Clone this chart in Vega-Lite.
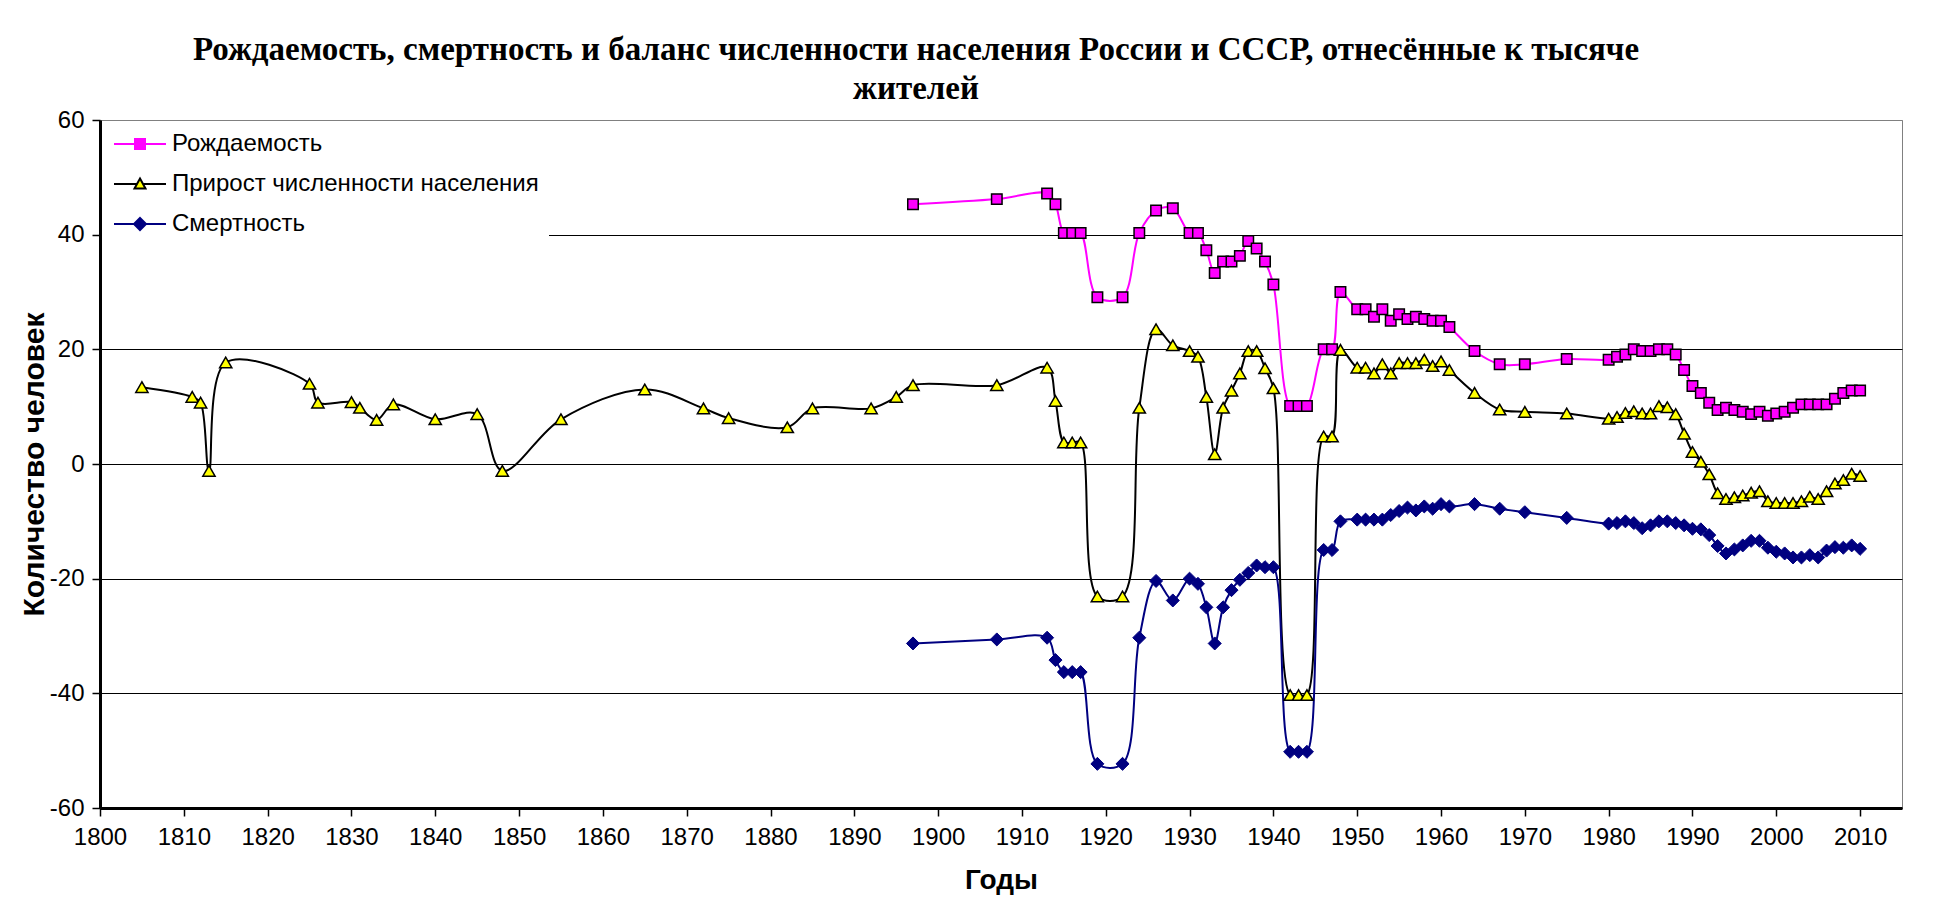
{
"$schema": "https://vega.github.io/schema/vega-lite/v6.json",
"width": 1802, "height": 688,
"autosize": {"type": "none"},
"padding": {"left": 100, "top": 120, "right": 32, "bottom": 96},
"background": "white",
"config": {"view": {"stroke": "#808080", "strokeWidth": 1}, "font": "Liberation Sans"},
"title": {"text": ["Рождаемость, смертность и баланс численности населения России и СССР, отнесённые к тысяче", "жителей"], "font": "Liberation Serif", "fontSize": 33, "fontWeight": "bold", "lineHeight": 39, "anchor": "middle", "dx": -85, "offset": 2, "color": "black"},
"data": {"values": [
{"year":1897,"series":"Рождаемость","value":45.3},{"year":1907,"series":"Рождаемость","value":46.2},{"year":1913,"series":"Рождаемость","value":47.2},{"year":1914,"series":"Рождаемость","value":45.3},{"year":1915,"series":"Рождаемость","value":40.3},{"year":1916,"series":"Рождаемость","value":40.3},{"year":1917,"series":"Рождаемость","value":40.3},{"year":1919,"series":"Рождаемость","value":29.1},{"year":1922,"series":"Рождаемость","value":29.1},{"year":1924,"series":"Рождаемость","value":40.3},{"year":1926,"series":"Рождаемость","value":44.2},{"year":1928,"series":"Рождаемость","value":44.6},{"year":1930,"series":"Рождаемость","value":40.3},{"year":1931,"series":"Рождаемость","value":40.3},{"year":1932,"series":"Рождаемость","value":37.3},{"year":1933,"series":"Рождаемость","value":33.3},{"year":1934,"series":"Рождаемость","value":35.3},{"year":1935,"series":"Рождаемость","value":35.3},{"year":1936,"series":"Рождаемость","value":36.3},{"year":1937,"series":"Рождаемость","value":38.9},{"year":1938,"series":"Рождаемость","value":37.6},{"year":1939,"series":"Рождаемость","value":35.3},{"year":1940,"series":"Рождаемость","value":31.3},{"year":1942,"series":"Рождаемость","value":10.1},{"year":1943,"series":"Рождаемость","value":10.1},{"year":1944,"series":"Рождаемость","value":10.1},{"year":1946,"series":"Рождаемость","value":20.0},{"year":1947,"series":"Рождаемость","value":20.0},{"year":1948,"series":"Рождаемость","value":30.0},{"year":1950,"series":"Рождаемость","value":27.0},{"year":1951,"series":"Рождаемость","value":27.0},{"year":1952,"series":"Рождаемость","value":25.7},{"year":1953,"series":"Рождаемость","value":27.0},{"year":1954,"series":"Рождаемость","value":25.0},{"year":1955,"series":"Рождаемость","value":26.1},{"year":1956,"series":"Рождаемость","value":25.3},{"year":1957,"series":"Рождаемость","value":25.7},{"year":1958,"series":"Рождаемость","value":25.3},{"year":1959,"series":"Рождаемость","value":25.0},{"year":1960,"series":"Рождаемость","value":25.0},{"year":1961,"series":"Рождаемость","value":23.9},{"year":1964,"series":"Рождаемость","value":19.7},{"year":1967,"series":"Рождаемость","value":17.4},{"year":1970,"series":"Рождаемость","value":17.4},{"year":1975,"series":"Рождаемость","value":18.3},{"year":1980,"series":"Рождаемость","value":18.2},{"year":1981,"series":"Рождаемость","value":18.7},{"year":1982,"series":"Рождаемость","value":19.1},{"year":1983,"series":"Рождаемость","value":20.0},{"year":1984,"series":"Рождаемость","value":19.7},{"year":1985,"series":"Рождаемость","value":19.7},{"year":1986,"series":"Рождаемость","value":20.0},{"year":1987,"series":"Рождаемость","value":20.0},{"year":1988,"series":"Рождаемость","value":19.1},{"year":1989,"series":"Рождаемость","value":16.4},{"year":1990,"series":"Рождаемость","value":13.6},{"year":1991,"series":"Рождаемость","value":12.4},{"year":1992,"series":"Рождаемость","value":10.7},{"year":1993,"series":"Рождаемость","value":9.4},{"year":1994,"series":"Рождаемость","value":9.8},{"year":1995,"series":"Рождаемость","value":9.4},{"year":1996,"series":"Рождаемость","value":9.1},{"year":1997,"series":"Рождаемость","value":8.7},{"year":1998,"series":"Рождаемость","value":9.1},{"year":1999,"series":"Рождаемость","value":8.4},{"year":2000,"series":"Рождаемость","value":8.8},{"year":2001,"series":"Рождаемость","value":9.1},{"year":2002,"series":"Рождаемость","value":9.8},{"year":2003,"series":"Рождаемость","value":10.4},{"year":2004,"series":"Рождаемость","value":10.4},{"year":2005,"series":"Рождаемость","value":10.4},{"year":2006,"series":"Рождаемость","value":10.4},{"year":2007,"series":"Рождаемость","value":11.4},{"year":2008,"series":"Рождаемость","value":12.4},{"year":2009,"series":"Рождаемость","value":12.8},{"year":2010,"series":"Рождаемость","value":12.8},
{"year":1805,"series":"Прирост численности населения","value":13.4},{"year":1811,"series":"Прирост численности населения","value":11.7},{"year":1812,"series":"Прирост численности населения","value":10.7},{"year":1813,"series":"Прирост численности населения","value":-1.2},{"year":1815,"series":"Прирост численности населения","value":17.7},{"year":1825,"series":"Прирост численности населения","value":14.0},{"year":1826,"series":"Прирост численности населения","value":10.7},{"year":1830,"series":"Прирост численности населения","value":10.8},{"year":1831,"series":"Прирост численности населения","value":9.8},{"year":1833,"series":"Прирост численности населения","value":7.7},{"year":1835,"series":"Прирост численности населения","value":10.4},{"year":1840,"series":"Прирост численности населения","value":7.8},{"year":1845,"series":"Прирост численности населения","value":8.7},{"year":1848,"series":"Прирост численности населения","value":-1.2},{"year":1855,"series":"Прирост численности населения","value":7.8},{"year":1865,"series":"Прирост численности населения","value":13.0},{"year":1872,"series":"Прирост численности населения","value":9.7},{"year":1875,"series":"Прирост численности населения","value":8.0},{"year":1882,"series":"Прирост численности населения","value":6.4},{"year":1885,"series":"Прирост численности населения","value":9.7},{"year":1892,"series":"Прирост численности населения","value":9.7},{"year":1895,"series":"Прирост численности населения","value":11.7},{"year":1897,"series":"Прирост численности населения","value":13.75},{"year":1907,"series":"Прирост численности населения","value":13.75},{"year":1913,"series":"Прирост численности населения","value":16.8},{"year":1914,"series":"Прирост численности населения","value":11.0},{"year":1915,"series":"Прирост численности населения","value":3.75},{"year":1916,"series":"Прирост численности населения","value":3.75},{"year":1917,"series":"Прирост численности населения","value":3.75},{"year":1919,"series":"Прирост численности населения","value":-23.1},{"year":1922,"series":"Прирост численности населения","value":-23.1},{"year":1924,"series":"Прирост численности населения","value":9.8},{"year":1926,"series":"Прирост численности населения","value":23.5},{"year":1928,"series":"Прирост численности населения","value":20.7},{"year":1930,"series":"Прирост численности населения","value":19.7},{"year":1931,"series":"Прирост численности населения","value":18.7},{"year":1932,"series":"Прирост численности населения","value":11.7},{"year":1933,"series":"Прирост численности населения","value":1.7},{"year":1934,"series":"Прирост численности населения","value":9.8},{"year":1935,"series":"Прирост численности населения","value":12.8},{"year":1936,"series":"Прирост численности населения","value":15.8},{"year":1937,"series":"Прирост численности населения","value":19.7},{"year":1938,"series":"Прирост численности населения","value":19.7},{"year":1939,"series":"Прирост численности населения","value":16.7},{"year":1940,"series":"Прирост численности населения","value":13.2},{"year":1942,"series":"Прирост численности населения","value":-40.3},{"year":1943,"series":"Прирост численности населения","value":-40.3},{"year":1944,"series":"Прирост численности населения","value":-40.3},{"year":1946,"series":"Прирост численности населения","value":4.8},{"year":1947,"series":"Прирост численности населения","value":4.8},{"year":1948,"series":"Прирост численности населения","value":19.9},{"year":1950,"series":"Прирост численности населения","value":16.8},{"year":1951,"series":"Прирост численности населения","value":16.8},{"year":1952,"series":"Прирост численности населения","value":15.8},{"year":1953,"series":"Прирост численности населения","value":17.4},{"year":1954,"series":"Прирост численности населения","value":15.8},{"year":1955,"series":"Прирост численности населения","value":17.6},{"year":1956,"series":"Прирост численности населения","value":17.6},{"year":1957,"series":"Прирост численности населения","value":17.6},{"year":1958,"series":"Прирост численности населения","value":18.2},{"year":1959,"series":"Прирост численности населения","value":17.1},{"year":1960,"series":"Прирост численности населения","value":17.9},{"year":1961,"series":"Прирост численности населения","value":16.4},{"year":1964,"series":"Прирост численности населения","value":12.4},{"year":1967,"series":"Прирост численности населения","value":9.5},{"year":1970,"series":"Прирост численности населения","value":9.1},{"year":1975,"series":"Прирост численности населения","value":8.8},{"year":1980,"series":"Прирост численности населения","value":7.9},{"year":1981,"series":"Прирост численности населения","value":8.2},{"year":1982,"series":"Прирост численности населения","value":8.9},{"year":1983,"series":"Прирост численности населения","value":9.2},{"year":1984,"series":"Прирост численности населения","value":8.8},{"year":1985,"series":"Прирост численности населения","value":8.8},{"year":1986,"series":"Прирост численности населения","value":10.1},{"year":1987,"series":"Прирост численности населения","value":9.9},{"year":1988,"series":"Прирост численности населения","value":8.7},{"year":1989,"series":"Прирост численности населения","value":5.3},{"year":1990,"series":"Прирост численности населения","value":2.1},{"year":1991,"series":"Прирост численности населения","value":0.4},{"year":1992,"series":"Прирост численности населения","value":-1.8},{"year":1993,"series":"Прирост численности населения","value":-5.1},{"year":1994,"series":"Прирост численности населения","value":-6.1},{"year":1995,"series":"Прирост численности населения","value":-5.8},{"year":1996,"series":"Прирост численности населения","value":-5.5},{"year":1997,"series":"Прирост численности населения","value":-5.0},{"year":1998,"series":"Прирост численности населения","value":-4.75},{"year":1999,"series":"Прирост численности населения","value":-6.5},{"year":2000,"series":"Прирост численности населения","value":-6.8},{"year":2001,"series":"Прирост численности населения","value":-6.8},{"year":2002,"series":"Прирост численности населения","value":-6.8},{"year":2003,"series":"Прирост численности населения","value":-6.5},{"year":2004,"series":"Прирост численности населения","value":-5.7},{"year":2005,"series":"Прирост численности населения","value":-6.1},{"year":2006,"series":"Прирост численности населения","value":-4.75},{"year":2007,"series":"Прирост численности населения","value":-3.4},{"year":2008,"series":"Прирост численности населения","value":-2.8},{"year":2009,"series":"Прирост численности населения","value":-1.7},{"year":2010,"series":"Прирост численности населения","value":-2.1},
{"year":1897,"series":"Смертность","value":-31.3},{"year":1907,"series":"Смертность","value":-30.6},{"year":1913,"series":"Смертность","value":-30.3},{"year":1914,"series":"Смертность","value":-34.2},{"year":1915,"series":"Смертность","value":-36.3},{"year":1916,"series":"Смертность","value":-36.3},{"year":1917,"series":"Смертность","value":-36.3},{"year":1919,"series":"Смертность","value":-52.3},{"year":1922,"series":"Смертность","value":-52.3},{"year":1924,"series":"Смертность","value":-30.3},{"year":1926,"series":"Смертность","value":-20.4},{"year":1928,"series":"Смертность","value":-23.8},{"year":1930,"series":"Смертность","value":-20.0},{"year":1931,"series":"Смертность","value":-20.9},{"year":1932,"series":"Смертность","value":-25.0},{"year":1933,"series":"Смертность","value":-31.3},{"year":1934,"series":"Смертность","value":-25.0},{"year":1935,"series":"Смертность","value":-22.0},{"year":1936,"series":"Смертность","value":-20.2},{"year":1937,"series":"Смертность","value":-19.0},{"year":1938,"series":"Смертность","value":-17.7},{"year":1939,"series":"Смертность","value":-18.0},{"year":1940,"series":"Смертность","value":-18.0},{"year":1942,"series":"Смертность","value":-50.2},{"year":1943,"series":"Смертность","value":-50.2},{"year":1944,"series":"Смертность","value":-50.2},{"year":1946,"series":"Смертность","value":-15.0},{"year":1947,"series":"Смертность","value":-15.0},{"year":1948,"series":"Смертность","value":-10.0},{"year":1950,"series":"Смертность","value":-9.7},{"year":1951,"series":"Смертность","value":-9.7},{"year":1952,"series":"Смертность","value":-9.7},{"year":1953,"series":"Смертность","value":-9.7},{"year":1954,"series":"Смертность","value":-8.9},{"year":1955,"series":"Смертность","value":-8.2},{"year":1956,"series":"Смертность","value":-7.6},{"year":1957,"series":"Смертность","value":-8.1},{"year":1958,"series":"Смертность","value":-7.4},{"year":1959,"series":"Смертность","value":-7.8},{"year":1960,"series":"Смертность","value":-7.0},{"year":1961,"series":"Смертность","value":-7.4},{"year":1964,"series":"Смертность","value":-7.0},{"year":1967,"series":"Смертность","value":-7.8},{"year":1970,"series":"Смертность","value":-8.4},{"year":1975,"series":"Смертность","value":-9.4},{"year":1980,"series":"Смертность","value":-10.4},{"year":1981,"series":"Смертность","value":-10.3},{"year":1982,"series":"Смертность","value":-10.0},{"year":1983,"series":"Смертность","value":-10.3},{"year":1984,"series":"Смертность","value":-11.2},{"year":1985,"series":"Смертность","value":-10.7},{"year":1986,"series":"Смертность","value":-10.0},{"year":1987,"series":"Смертность","value":-10.0},{"year":1988,"series":"Смертность","value":-10.3},{"year":1989,"series":"Смертность","value":-10.7},{"year":1990,"series":"Смертность","value":-11.3},{"year":1991,"series":"Смертность","value":-11.4},{"year":1992,"series":"Смертность","value":-12.4},{"year":1993,"series":"Смертность","value":-14.3},{"year":1994,"series":"Смертность","value":-15.6},{"year":1995,"series":"Смертность","value":-14.9},{"year":1996,"series":"Смертность","value":-14.2},{"year":1997,"series":"Смертность","value":-13.4},{"year":1998,"series":"Смертность","value":-13.4},{"year":1999,"series":"Смертность","value":-14.6},{"year":2000,"series":"Смертность","value":-15.3},{"year":2001,"series":"Смертность","value":-15.6},{"year":2002,"series":"Смертность","value":-16.3},{"year":2003,"series":"Смертность","value":-16.3},{"year":2004,"series":"Смертность","value":-15.9},{"year":2005,"series":"Смертность","value":-16.3},{"year":2006,"series":"Смертность","value":-15.1},{"year":2007,"series":"Смертность","value":-14.5},{"year":2008,"series":"Смертность","value":-14.6},{"year":2009,"series":"Смертность","value":-14.2},{"year":2010,"series":"Смертность","value":-14.8}
]},
"encoding": {
 "x": {"field": "year", "type": "quantitative", "scale": {"domain": [1800, 2015], "nice": false, "zero": false},
  "axis": {"values": [1800,1810,1820,1830,1840,1850,1860,1870,1880,1890,1900,1910,1920,1930,1940,1950,1960,1970,1980,1990,2000,2010], "format": "d", "title": "Годы", "grid": false, "labelFont": "Liberation Sans", "labelFontSize": 24, "labelColor": "black", "labelPadding": 9, "labelFlush": false, "labelOverlap": false, "tickSize": 8, "tickColor": "black", "tickWidth": 1.5, "domainColor": "black", "domainWidth": 3, "titleFont": "Liberation Sans", "titleFontSize": 28, "titleFontWeight": "bold", "titleColor": "black", "titlePadding": 17}},
 "y": {"field": "value", "type": "quantitative", "scale": {"domain": [-60, 60], "nice": false},
  "axis": {"values": [-60,-40,-20,0,20,40,60], "labelExpr": "'' + datum.value", "title": "Количество человек", "grid": true, "gridColor": {"condition": {"test": "datum.value === 60", "value": "#808080"}, "value": "black"}, "gridWidth": 1, "labelFont": "Liberation Sans", "labelFontSize": 24, "labelColor": "black", "labelPadding": 8, "tickSize": 8, "tickColor": "black", "tickWidth": 1.5, "domainColor": "black", "domainWidth": 3, "titleFont": "Liberation Sans", "titleFontSize": 30, "titleFontWeight": "bold", "titleColor": "black", "titlePadding": 0}}
},
"layer": [
 {"mark": {"type": "line", "interpolate": "catmull-rom", "strokeWidth": 2},
  "encoding": {"stroke": {"field": "series", "type": "nominal",
   "scale": {"domain": ["Рождаемость", "Прирост численности населения", "Смертность"], "range": ["#FF00FF", "#000000", "#000080"]},
   "legend": {"orient": "none", "legendX": 2, "legendY": 2, "title": null, "fillColor": "white", "padding": 10, "labelFont": "Liberation Sans", "labelFontSize": 24, "labelColor": "black", "labelLimit": 0, "symbolSize": 100, "symbolStrokeWidth": 2, "symbolOffset": 16, "labelOffset": 20, "rowPadding": 16, "symbolType": "M-5.2,0H5.2",
    "encode": {"symbols": {"update": {
     "shape": {"signal": "datum.value === 'Рождаемость' ? 'M-5.2,0H-1M1,0H5.2M-1,-1H1V1H-1Z' : datum.value === 'Смертность' ? 'M-5.2,0H-1.2M1.2,0H5.2M0,-1.2L1.2,0L0,1.2L-1.2,0Z' : 'M-5.2,0H-0.6M0.6,0H5.2M0,-1.1L1.1,0.9H-1.1Z'"},
     "fill": {"signal": "datum.value === 'Рождаемость' ? '#FF00FF' : datum.value === 'Смертность' ? '#000080' : '#FFFF00'"},
     "opacity": {"value": 1}}}}}}}},
 {"transform": [{"filter": "datum.series === 'Рождаемость'"}],
  "mark": {"type": "point", "shape": "square", "filled": true, "fill": "#FF00FF", "stroke": "black", "strokeWidth": 1.5, "size": 110, "opacity": 1}},
 {"transform": [{"filter": "datum.series === 'Прирост численности населения'"}],
  "mark": {"type": "point", "shape": "triangle-up", "filled": true, "fill": "#FFFF00", "stroke": "black", "strokeWidth": 1.5, "size": 150, "opacity": 1}},
 {"transform": [{"filter": "datum.series === 'Смертность'"}],
  "mark": {"type": "point", "shape": "diamond", "filled": true, "fill": "#000080", "stroke": "#000080", "strokeWidth": 1, "size": 170, "opacity": 1}}
]
}
